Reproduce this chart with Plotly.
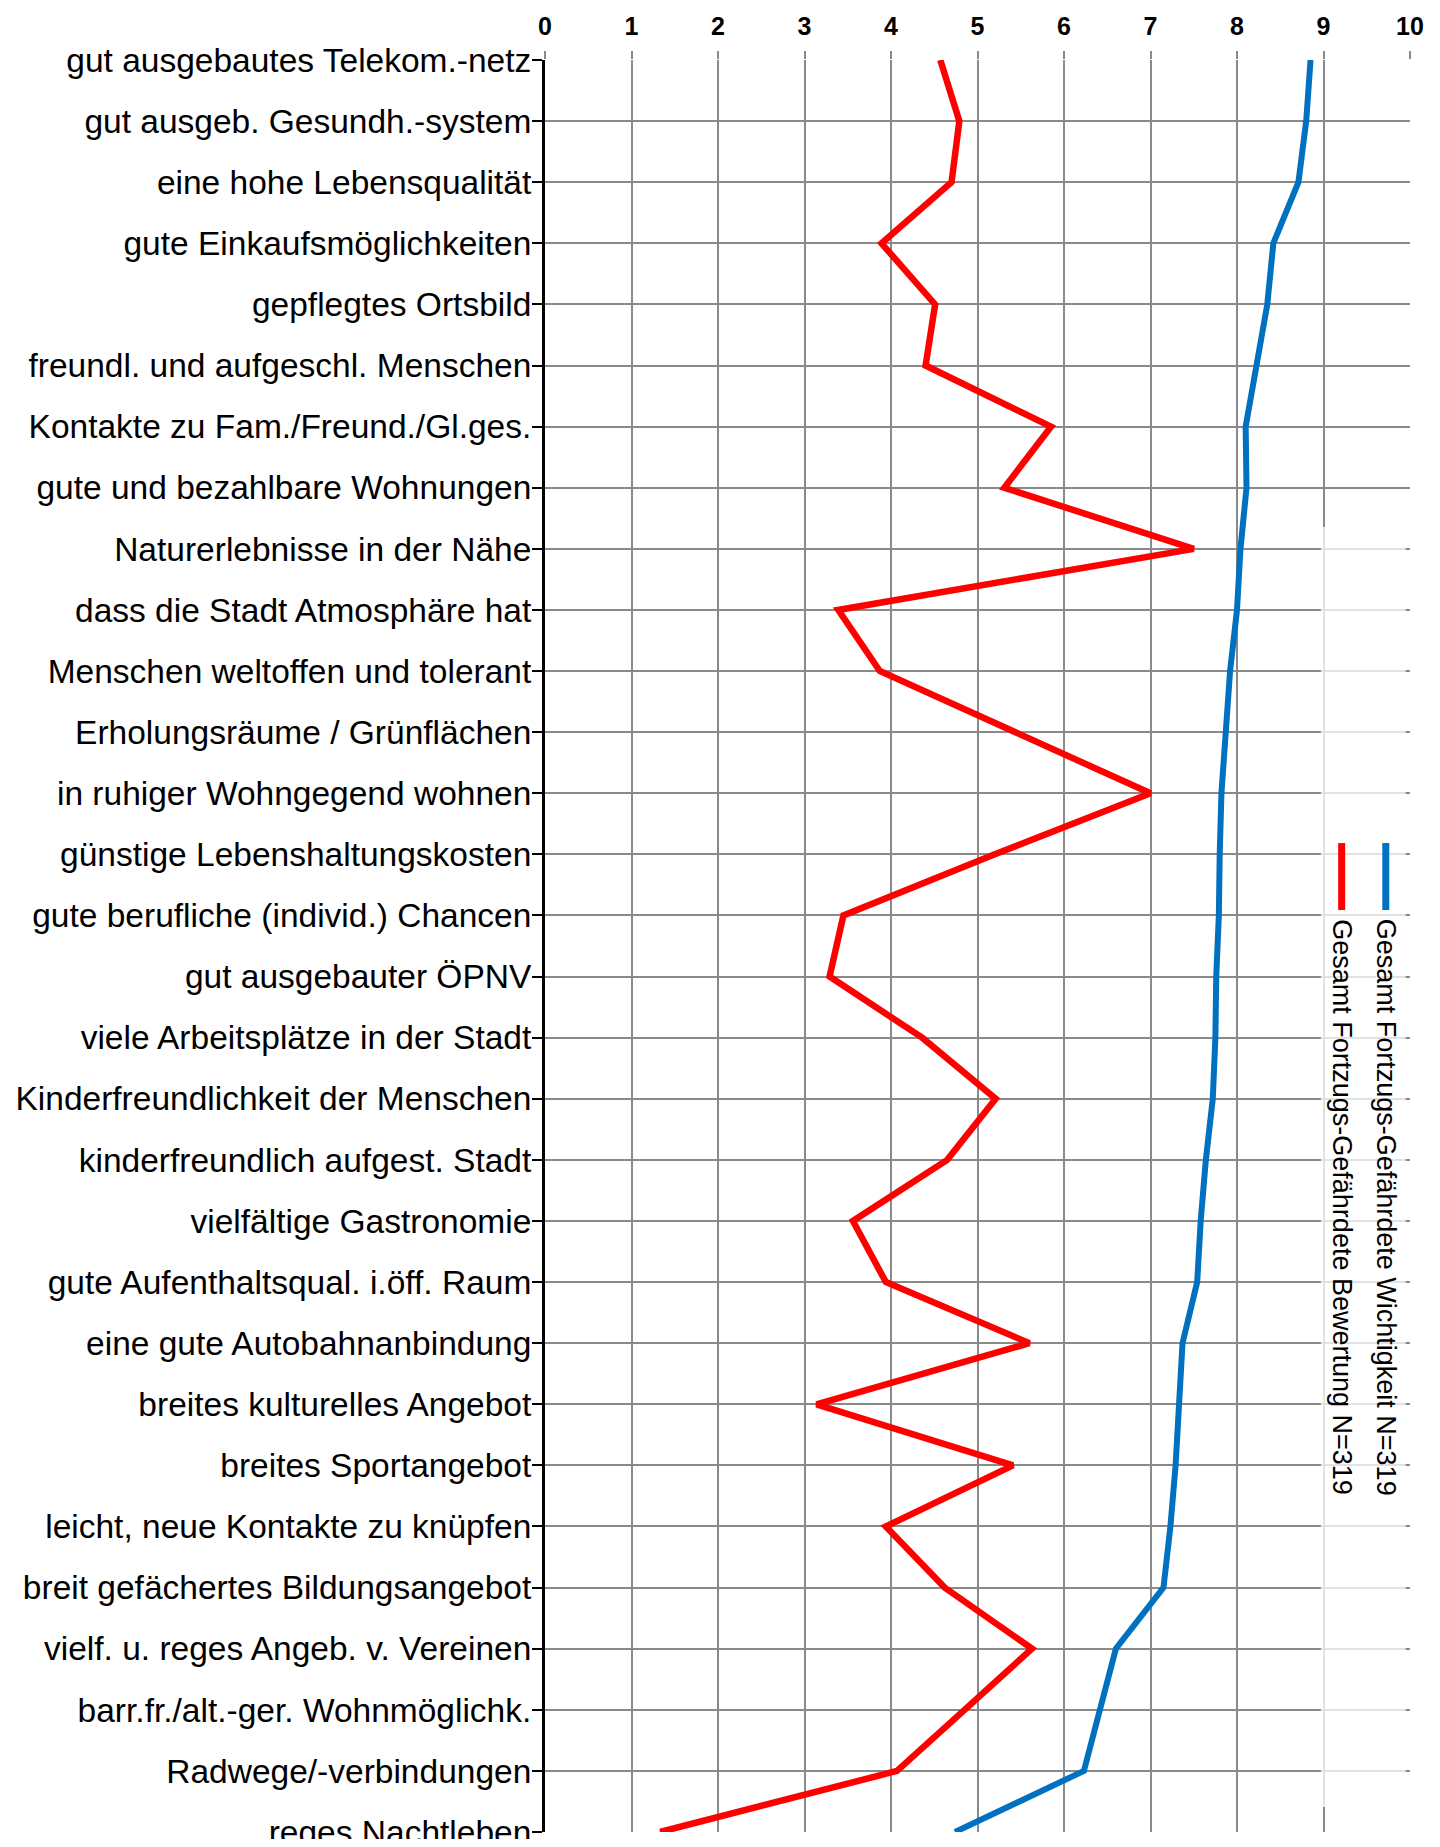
import plotly.graph_objects as go

categories = [
    "gut ausgebautes Telekom.-netz",
    "gut ausgeb. Gesundh.-system",
    "eine hohe Lebensqualität",
    "gute Einkaufsmöglichkeiten",
    "gepflegtes Ortsbild",
    "freundl. und aufgeschl. Menschen",
    "Kontakte zu Fam./Freund./Gl.ges.",
    "gute und bezahlbare Wohnungen",
    "Naturerlebnisse in der Nähe",
    "dass die Stadt Atmosphäre hat",
    "Menschen weltoffen und tolerant",
    "Erholungsräume / Grünflächen",
    "in ruhiger Wohngegend wohnen",
    "günstige Lebenshaltungskosten",
    "gute berufliche (individ.) Chancen",
    "gut ausgebauter ÖPNV",
    "viele Arbeitsplätze in der Stadt",
    "Kinderfreundlichkeit der Menschen",
    "kinderfreundlich aufgest. Stadt",
    "vielfältige Gastronomie",
    "gute Aufenthaltsqual. i.öff. Raum",
    "eine gute Autobahnanbindung",
    "breites kulturelles Angebot",
    "breites Sportangebot",
    "leicht, neue Kontakte zu knüpfen",
    "breit gefächertes Bildungsangebot",
    "vielf. u. reges Angeb. v. Vereinen",
    "barr.fr./alt.-ger. Wohnmöglichk.",
    "Radwege/-verbindungen",
    "reges Nachtleben",
]

bewertung = [4.57, 4.79, 4.70, 3.89, 4.51, 4.40, 5.85, 5.31, 7.50, 3.39,
             3.87, 5.43, 7.00, 5.20, 3.45, 3.29, 4.36, 5.21, 4.65, 3.56,
             3.94, 5.60, 3.14, 5.41, 3.94, 4.62, 5.63, 4.85, 4.07, 1.33]

wichtigkeit = [8.85, 8.80, 8.71, 8.42, 8.35, 8.22, 8.10, 8.11, 8.04, 8.00,
               7.92, 7.87, 7.82, 7.80, 7.79, 7.76, 7.75, 7.72, 7.64, 7.58,
               7.54, 7.37, 7.33, 7.29, 7.23, 7.15, 6.60, 6.42, 6.23, 4.74]

x_ticks = list(range(0, 11))

name_red = "Gesamt Fortzugs-Gefährdete Bewertung N=319"
name_blue = "Gesamt Fortzugs-Gefährdete Wichtigkeit N=319"

RED = "#ff0000"
BLUE = "#0070c0"
GRID = "#8a8a8a"
FONT = "Liberation Sans, Arial, sans-serif"

fig = go.Figure()
fig.add_trace(go.Scatter(x=bewertung, y=categories, mode="lines", name=name_red,
                         line=dict(color=RED, width=6.5), showlegend=False))
fig.add_trace(go.Scatter(x=wichtigkeit, y=categories, mode="lines", name=name_blue,
                         line=dict(color=BLUE, width=6), showlegend=False))

n = len(categories)
fig.update_layout(
    width=1424, height=1831,
    margin=dict(l=537, r=22, t=52, b=7),
    paper_bgcolor="white", plot_bgcolor="white",
    font=dict(family=FONT, color="black"),
    xaxis=dict(
        range=[0, 10], side="top", tickvals=x_ticks,
        showgrid=True, gridcolor=GRID, gridwidth=2,
        ticks="outside", ticklen=8, tickwidth=2, tickcolor=GRID,
        tickfont=dict(size=25, family=FONT, weight="bold"),
        ticklabelstandoff=6,
        zeroline=False, showline=False, automargin=False,
    ),
    yaxis=dict(
        type="category", categoryarray=categories,
        range=[n - 1, 0],
        showgrid=True, gridcolor=GRID, gridwidth=2,
        ticks="outside", ticklen=10, tickwidth=2, tickcolor="black",
        tickfont=dict(size=33.5, family=FONT),
        ticklabelstandoff=-6,
        showline=True, linecolor="black", linewidth=3,
        zeroline=False, automargin=False,
    ),
    yaxis2=dict(
        type="category", categoryarray=categories,
        range=[n - 1, 0], overlaying="y", side="left",
        ticks="inside", ticklen=10, tickwidth=2, tickcolor="black",
        showticklabels=False, showgrid=False, showline=False, zeroline=False,
        automargin=False,
    ),
)

# legend area (semi-transparent box over the grid)
fig.add_shape(type="rect", xref="x", yref="paper", x0=8.97, x1=9.95,
              y0=0.0141, y1=0.7365, fillcolor="rgba(255,255,255,0.75)",
              line=dict(width=0), layer="above")

# legend samples
for xv, col in [(9.21, RED), (9.72, BLUE)]:
    fig.add_shape(type="line", xref="x", yref="paper", x0=xv, x1=xv,
                  y0=0.5203, y1=0.5581, line=dict(color=col, width=7),
                  layer="above")

for xv, txt in [(9.21, name_red), (9.72, name_blue)]:
    fig.add_annotation(x=xv, y=0.5164, xref="x", yref="paper", text=txt,
                       textangle=90, showarrow=False, xanchor="center",
                       yanchor="top", font=dict(size=27, family=FONT, color="black"))

fig.write_html("out.html")
